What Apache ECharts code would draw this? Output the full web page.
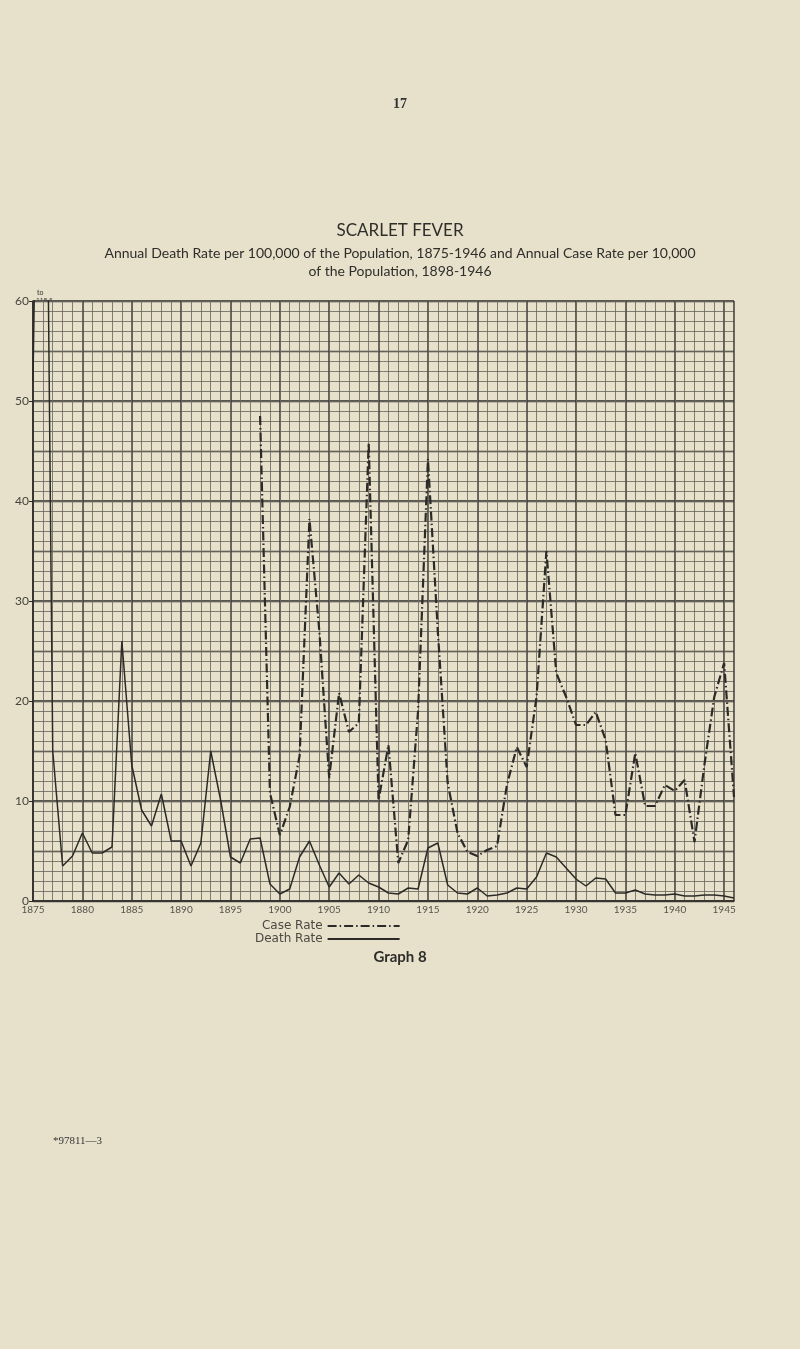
<!DOCTYPE html>
<html>
<head>
<meta charset="utf-8">
<script src="https://cdn.jsdelivr.net/npm/echarts@6/dist/echarts.min.js"></script>
<style>
html,body{margin:0;padding:0;background:#e7e1cc;}
#c{width:800px;height:1349px;}
</style>
</head>
<body>
<div id="c"></div>
<script>
// ---- data ----
const deathYears = [];
for (let y = 1875; y <= 1946; y++) deathYears.push(y);
const deathRate = [
  52, 118.5, 15, 3.5, 4.5, 6.8, 4.8, 4.8, 5.4, 26,
  13.6, 9.1, 7.5, 10.7, 6.0, 6.0, 3.5, 5.8, 15.0, 10.1,
  4.4, 3.8, 6.2, 6.3, 1.7, 0.7, 1.2, 4.4, 6.0, 3.6,
  1.4, 2.8, 1.7, 2.6, 1.8, 1.4, 0.8, 0.7, 1.3, 1.2,
  5.3, 5.8, 1.6, 0.8, 0.7, 1.3, 0.5, 0.6, 0.8, 1.3,
  1.2, 2.4, 4.8, 4.4, 3.3, 2.2, 1.5, 2.3, 2.2, 0.8,
  0.8, 1.1, 0.7, 0.6, 0.6, 0.7, 0.5, 0.5, 0.6, 0.6,
  0.5, 0.3
];
const caseYears = [];
for (let y = 1898; y <= 1946; y++) caseYears.push(y);
const caseRate = [
  48.5, 10.8, 6.6, 9.4, 14.5, 38.2, 27, 12.3, 20.8, 16.9,
  17.8, 45.8, 10.1, 15.6, 3.8, 6.1, 19, 44.2, 27, 11.8,
  6.8, 4.9, 4.5, 5.1, 5.5, 11.6, 15.4, 13.4, 20.4, 35,
  22.8, 20.4, 17.6, 17.6, 18.9, 16.1, 8.6, 8.6, 14.8, 9.5,
  9.5, 11.6, 11.0, 12.1, 5.9, 13.6, 20.4, 23.8, 10.4
];
const xTickYears = [1875,1880,1885,1890,1895,1900,1905,1910,1915,1920,1925,1930,1935,1940,1945];
const yTickLabels = ['0','10','20','30','40','50','60'];

const ink = '#2b2a26';
const chart = echarts.init(document.getElementById('c'), null, {renderer:'canvas'});
const gridPos = {left:33, right:66, top:301, bottom:448};

chart.setOption({
  backgroundColor:'#e7e1cc',
  animation:false,
  textStyle:{fontFamily:'Lato'},
  grid:[gridPos],
  xAxis:[
    {type:'value', min:1875, max:1946, interval:5, gridIndex:0,
     axisLine:{show:true, lineStyle:{color:ink, width:1.6}},
     axisTick:{show:false},
     axisLabel:{show:true, margin:4, fontSize:10, color:'#55534c', fontFamily:'Lato',
       formatter:v => xTickYears.indexOf(v) >= 0 ? String(v) : ''},
     splitLine:{show:true, lineStyle:{color:'#3a3934', width:1.5}}},
    {type:'value', min:1875, max:1946, interval:1, gridIndex:0, position:'bottom',
     axisLine:{show:false}, axisTick:{show:false}, axisLabel:{show:false},
     splitLine:{show:true, lineStyle:{color:'#6c6960', width:0.85}}}
  ],
  yAxis:[
    {type:'value', min:0, max:60, interval:10, gridIndex:0,
     axisLine:{show:true, lineStyle:{color:ink, width:1.6}},
     axisTick:{show:true, length:4, lineStyle:{color:ink}},
     axisLabel:{margin:4, fontSize:12, color:'#45433d', fontFamily:'Lato',
       formatter:v => yTickLabels[v/10]},
     splitLine:{show:true, lineStyle:{color:'#3a3934', width:1.5}}},
    {type:'value', min:0, max:60, interval:5, gridIndex:0,
     axisLine:{show:false}, axisTick:{show:false}, axisLabel:{show:false},
     splitLine:{show:true, lineStyle:{color:'#3a3934', width:1.4}}},
    {type:'value', min:0, max:60, interval:1, gridIndex:0,
     axisLine:{show:false}, axisTick:{show:false}, axisLabel:{show:false},
     splitLine:{show:true, lineStyle:{color:'#6c6960', width:0.85}}}
  ],
  legend:{
    orient:'vertical', left:250, top:915, align:'right',
    itemWidth:72, itemHeight:10, itemGap:1,
    itemStyle:{opacity:0},
    textStyle:{fontSize:12, color:'#4a4842', fontFamily:'DejaVu Sans', fontWeight:'normal'},
    data:['Case Rate','Death Rate']
  },
  series:[
    {name:'Death Rate', type:'line', xAxisIndex:0, yAxisIndex:0,
     data:deathYears.map((y,i)=>[y, deathRate[i]]),
     showSymbol:false, symbol:'none', clip:true,
     itemStyle:{color:ink},
     lineStyle:{color:ink, width:1.5}},
    {name:'Case Rate', type:'line', xAxisIndex:0, yAxisIndex:0,
     data:caseYears.map((y,i)=>[y, caseRate[i]]),
     showSymbol:false, symbol:'none', clip:true,
     itemStyle:{color:ink},
     lineStyle:{color:ink, width:2.2, type:[9,3,1.5,3]}}
  ],
  graphic:[
    {type:'text', left:'center', top:97, style:{text:'17', fontSize:14, fontFamily:'Liberation Serif', fontWeight:'bold', fill:'#333'}},
    {type:'text', left:'center', top:222, style:{text:'SCARLET FEVER', fontSize:17, fontFamily:'Lato', fill:'#2e2d29', letterSpacing:1}},
    {type:'text', left:'center', top:246, style:{text:'Annual Death Rate per 100,000 of the Population, 1875-1946 and Annual Case Rate per 10,000', fontSize:14, fontFamily:'Lato', fill:'#2e2d29'}},
    {type:'text', left:'center', top:264, style:{text:'of the Population, 1898-1946', fontSize:14, fontFamily:'Lato', fill:'#2e2d29'}},
    {type:'text', left:37, top:289, style:{text:'to', fontSize:7, fontFamily:'Lato', fill:'#333'}},
    {type:'text', left:36, top:296, style:{text:'118·5', fontSize:6.5, fontFamily:'Lato', fill:'#333'}},
    {type:'text', left:'center', top:950, style:{text:'Graph 8', fontSize:15, fontFamily:'Lato', fontWeight:'bold', fill:'#2e2d29'}},
    {type:'text', left:53, top:1136, style:{text:'*97811—3', fontSize:11, fontFamily:'Liberation Serif', fill:'#333'}}
  ]
});
</script>
</body>
</html>
